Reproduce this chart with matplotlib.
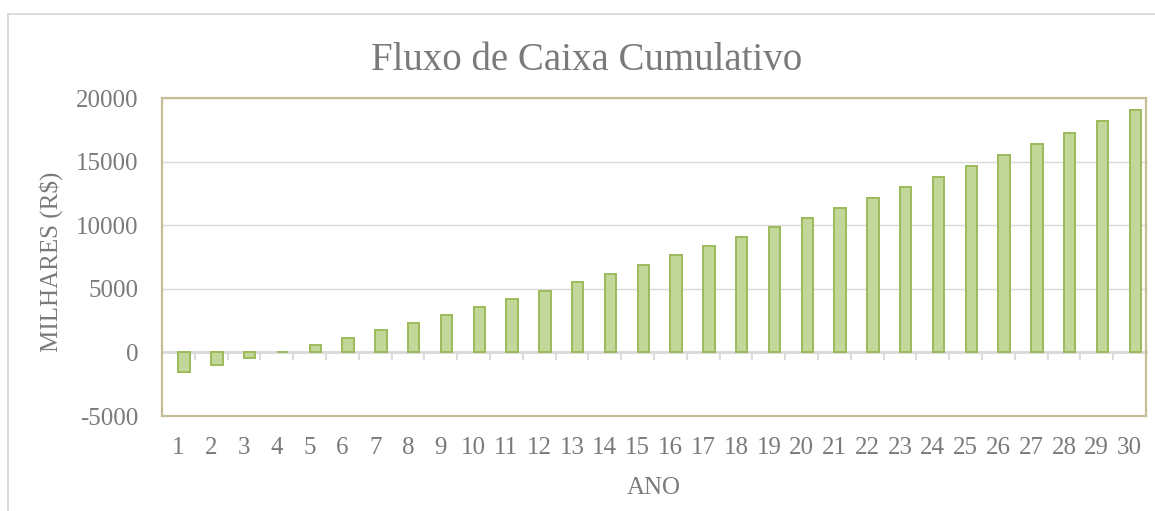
import matplotlib
matplotlib.use("Agg")
import matplotlib.pyplot as plt
from matplotlib.lines import Line2D

years = list(range(1, 31))
cumulative = [-1550, -1000, -450, 60, 600, 1170, 1750, 2350, 2950, 3560,
              4180, 4830, 5500, 6200, 6890, 7620, 8330, 9070, 9830, 10590,
              11380, 12170, 12980, 13820, 14640, 15530, 16390, 17260, 18180, 19080]
yticks = [-5000, 0, 5000, 10000, 15000, 20000]
title = "Fluxo de Caixa Cumulativo"
ylabel = "MILHARES (R$)"
xlabel = "ANO"

W, H = 1155, 511
fig = plt.figure(figsize=(W / 100, H / 100), dpi=100)
plt.rcParams['font.family'] = ['Liberation Serif', 'DejaVu Serif']
plt.rcParams['axes.unicode_minus'] = False
txt = '#7a7a7a'

# outer chart border
fig.add_artist(Line2D([8 / W, 8 / W], [0, 1 - 14 / H], transform=fig.transFigure,
                      color='#d9d9d9', lw=1.3))
fig.add_artist(Line2D([8 / W, 1], [1 - 14 / H, 1 - 14 / H], transform=fig.transFigure,
                      color='#d9d9d9', lw=1.3))

ax = fig.add_axes([162 / W, (H - 416) / H, 984 / W, 318 / H])
ax.set_xlim(0.5, 30.5)
ax.set_ylim(-5000, 20000)
ax.set_yticks(yticks)
ax.yaxis.grid(True, color='#d9d9d9', lw=1.0)
ax.set_axisbelow(True)
for s in ax.spines.values():
    s.set_color('#c4bd97')
    s.set_linewidth(1.6)

ax.bar([y + 0.175 for y in years], cumulative, width=0.35,
       color='#c4d79b', edgecolor='#9bbb59', linewidth=1.4, zorder=3)

ax.set_xticks(years)
ax.tick_params(axis='x', length=0, pad=15, labelsize=18, labelcolor=txt)
ax.tick_params(axis='y', length=0, pad=17, labelsize=18, labelcolor=txt)

# horizontal category axis at zero
sec = ax.secondary_xaxis(0, transform=ax.transData)
sec.set_xticks([y - 0.5 for y in years] + [30.5])
sec.tick_params(axis='x', direction='out', length=6, width=1.3, color='#d9d9d9',
                labelbottom=False)
sec.spines['bottom'].set_color('#d9d9d9')
sec.spines['bottom'].set_linewidth(2)
sec.set_zorder(2)

fig.text(587 / W, 1 - 70 / H, title, ha='center', va='baseline',
         fontsize=28, color=txt)
fig.text(51 / W, 1 - 262 / H, ylabel, ha='center', va='center', rotation=90,
         fontsize=18, color=txt)
fig.text(654 / W, 1 - 494 / H, xlabel, ha='center', va='baseline',
         fontsize=18, color=txt)

fig.savefig('out.png', dpi=100)
